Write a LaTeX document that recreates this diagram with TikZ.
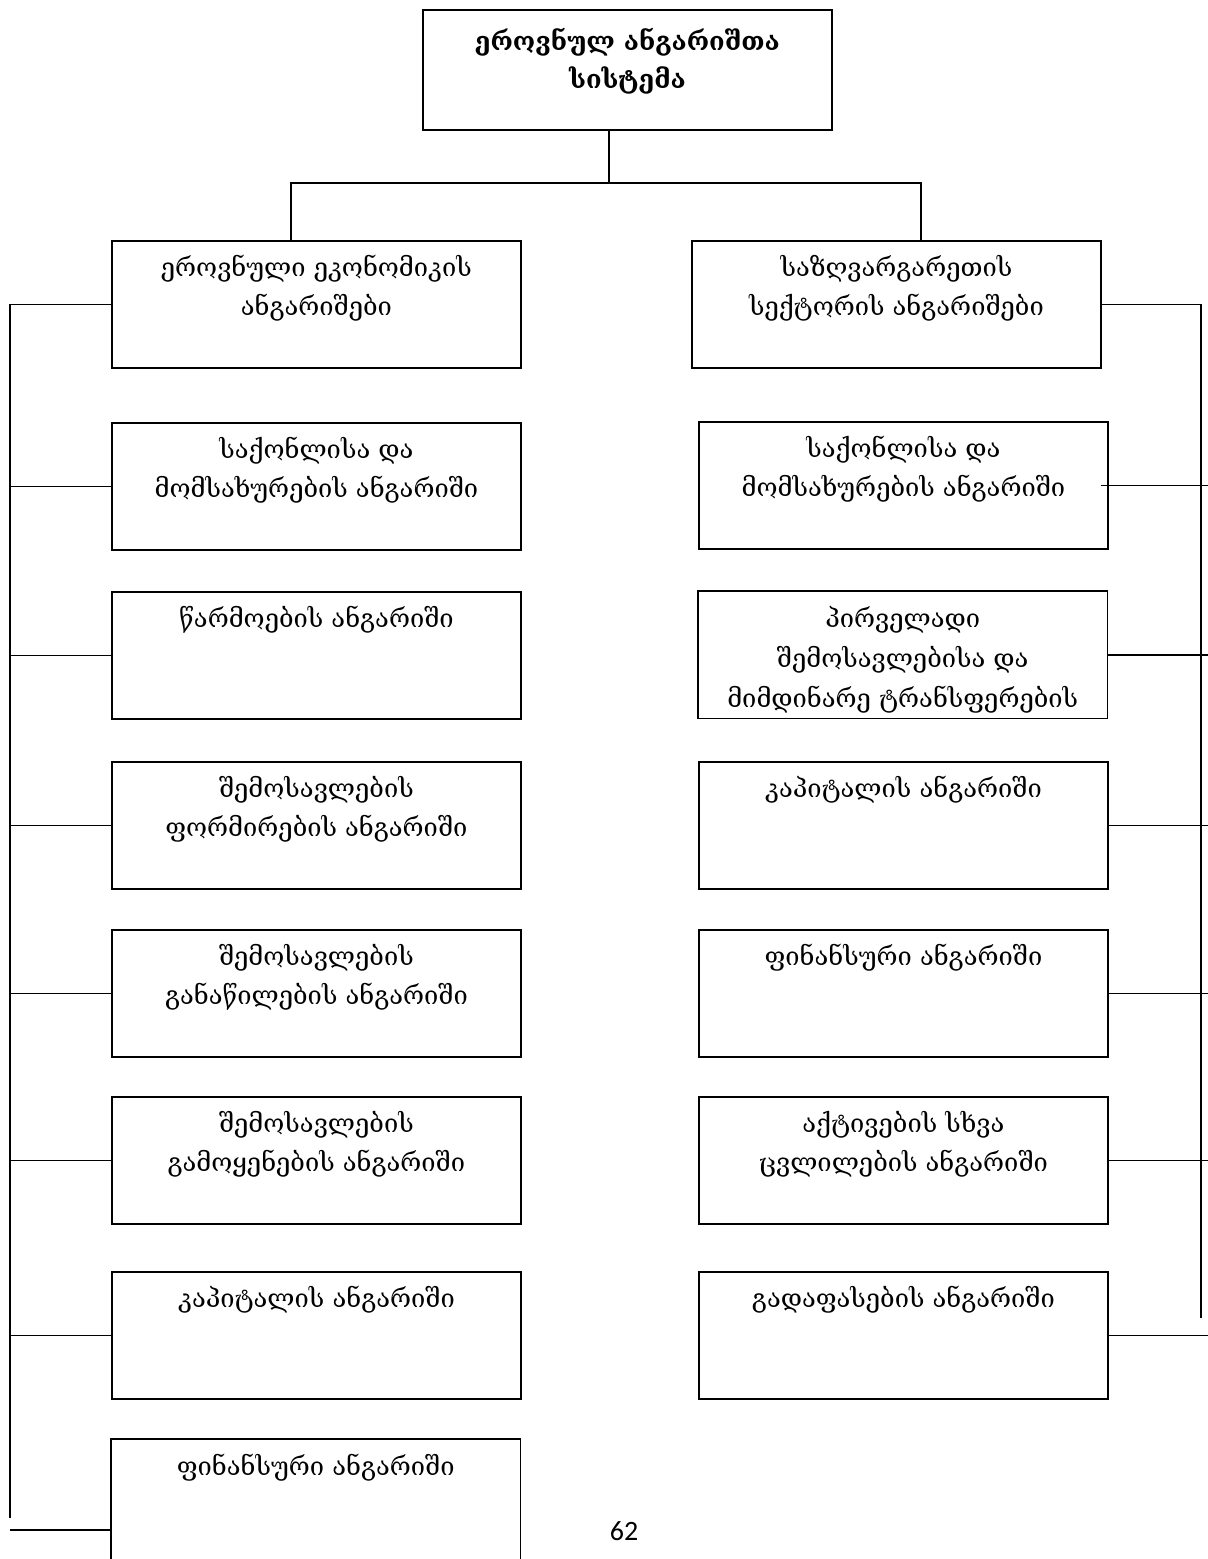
\documentclass[tikz,border=0pt]{standalone}
\usepackage{fontspec}
\setmainfont{DejaVu Serif}
\newfontfamily\pagefont{Carlito}
\newcommand\mkbox[6]{%
  \node[frame, minimum width=#4pt, minimum height=#5pt, anchor=north west] (#1) at (#2,#3) {};
  \node[lbl] (#1t) at ([yshift=-15pt]#1.north) {#6};
}
\begin{document}
\begin{tikzpicture}[x=1pt,y=-1pt,
  frame/.style={draw, line width=1.8pt, inner sep=0pt},
  lbl/.style={anchor=north, align=center, inner sep=0pt, font=\fontsize{25.5}{39}\selectfont},
  conn/.style={line width=1.8pt}]
\useasboundingbox (0,0) rectangle (1208,1559);
% top box
\node[frame, minimum width=409pt, minimum height=120pt, anchor=north west] (T) at (422,9) {};
\node[lbl, font=\bfseries\fontsize{25.5}{38}\selectfont] (Tt) at ([yshift=-19pt]T.north) {ეროვნულ ანგარიშთა\\სისტემა};
% left column
\mkbox{L1}{111}{240}{409}{127}{ეროვნული ეკონომიკის\\ანგარიშები}
\mkbox{L2}{111}{422}{409}{127}{საქონლისა და\\მომსახურების ანგარიში}
\mkbox{L3}{111}{591}{409}{127}{წარმოების ანგარიში}
\mkbox{L4}{111}{761}{409}{127}{შემოსავლების\\ფორმირების ანგარიში}
\mkbox{L5}{111}{929}{409}{127}{შემოსავლების\\განაწილების ანგარიში}
\mkbox{L6}{111}{1096}{409}{127}{შემოსავლების\\გამოყენების ანგარიში}
\mkbox{L7}{111}{1271}{409}{127}{კაპიტალის ანგარიში}
\node[minimum width=409pt, minimum height=140pt, inner sep=0pt, anchor=north west] (L8) at (111,1439) {};
\draw[conn] (L8.south west) -- (L8.north west) -- (L8.north east) -- (L8.south east);
\node[lbl] (L8t) at ([yshift=-15pt]L8.north) {ფინანსური ანგარიში};
% right column
\mkbox{R1}{691}{240}{409}{127}{საზღვარგარეთის\\სექტორის ანგარიშები}
\mkbox{R2}{698}{421}{409}{127}{საქონლისა და\\მომსახურების ანგარიში}
\node[inner sep=0pt, minimum width=409pt, minimum height=127pt, anchor=north west] (R3) at (698,591) {};
\begin{scope}
  \clip (R3.south west) rectangle (R3.north east);
  \node[lbl, font=\fontsize{25.5}{40}\selectfont] (R3t) at ([yshift=-15pt]R3.north) {პირველადი\\შემოსავლებისა და\\მიმდინარე ტრანსფერების};
\end{scope}
\draw[line width=1.8pt] (R3.south west) rectangle (R3.north east);
\mkbox{R4}{698}{761}{409}{127}{კაპიტალის ანგარიში}
\mkbox{R5}{698}{929}{409}{127}{ფინანსური ანგარიში}
\mkbox{R6}{698}{1096}{409}{127}{აქტივების სხვა\\ცვლილების ანგარიში}
\mkbox{R7}{698}{1271}{409}{127}{გადაფასების ანგარიში}
% page number
\node[font=\pagefont\fontsize{28}{32}\selectfont, inner sep=0pt] (pg) at (624,1531) {62};
% top connectors
\coordinate (tj) at (609,183);
\coordinate (ja) at (291,183);
\coordinate (jb) at (921,183);
\draw[conn] (T.south -| tj) -- (tj);
\draw[conn] (ja |- L1.north) -- (ja) -- (jb) -- (jb |- R1.north);
% left spine
\coordinate (ls) at (10,0);
\coordinate (le) at (10,1518);
\coordinate (lb) at (10,1530);
\draw[conn] (L1.west) -- (L1.west -| ls) -- (le);
\foreach \b in {L2,L3,L4,L5,L6,L7} \draw[conn] (\b.west) -- (\b.west -| ls);
\draw[conn] (lb) -- (lb -| L8.west);
% right spine
\coordinate (rs) at (1201,0);
\coordinate (re) at (1201,1318);
\coordinate (rx) at (1208,0);
\draw[conn] (R1.east) -- (R1.east -| rs) -- (re);
\draw[conn] ([xshift=-8pt]R2.east) -- (R2.east -| rx);
\foreach \b in {R3,R4,R5,R6,R7} \draw[conn] (\b.east) -- (\b.east -| rx);
\end{tikzpicture}
\end{document}
